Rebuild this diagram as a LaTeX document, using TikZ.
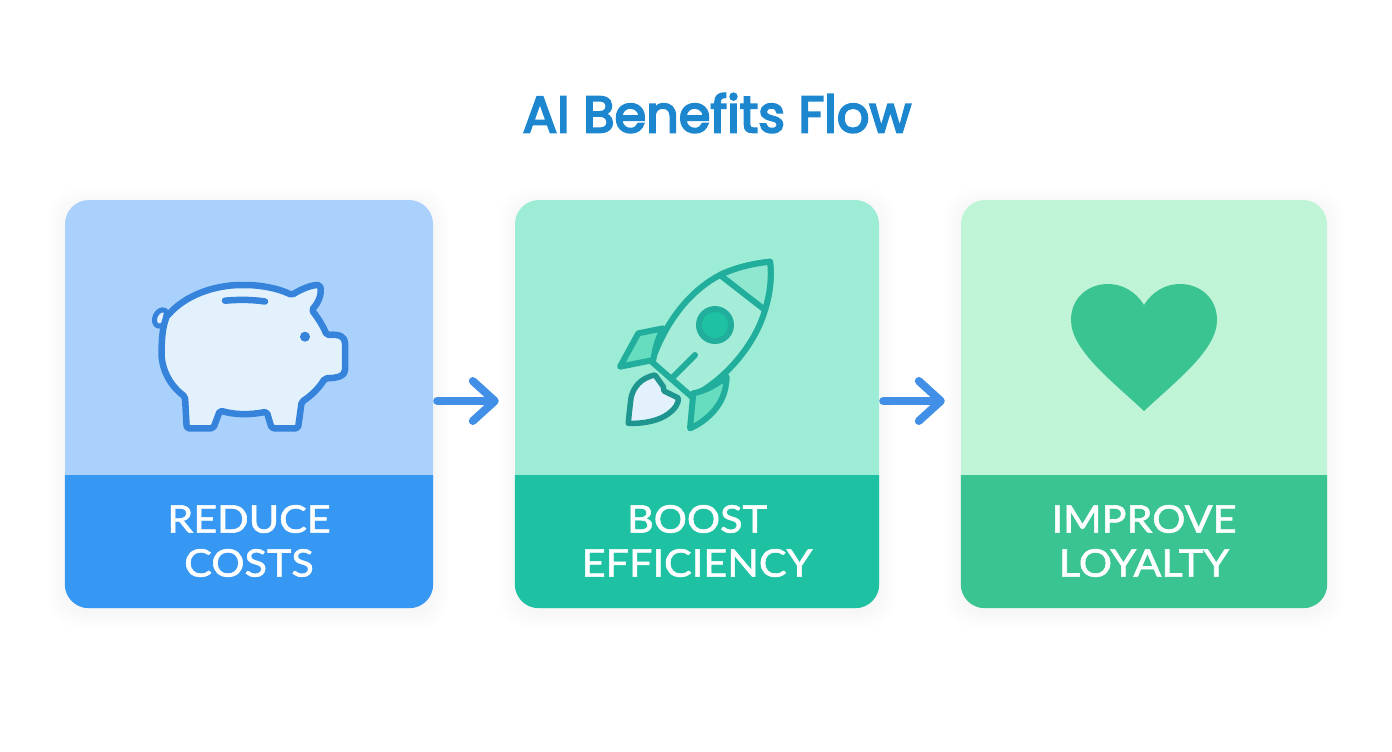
\documentclass[tikz,border=0pt]{standalone}
\usepackage{fontspec}
\setmainfont{Lato}
\newfontfamily\titlefont[FakeBold=4]{Poppins}
\newfontfamily\captionfont[FakeStretch=1.09,FakeBold=1.5]{Lato}
\usepackage{tikz}
\usetikzlibrary{arrows.meta}
\definecolor{titleblue}{HTML}{1C86CF}
\definecolor{lightblue}{HTML}{A9D1FB}
\definecolor{bandblue}{HTML}{3798F3}
\definecolor{pigline}{HTML}{3583DB}
\definecolor{pigfill}{HTML}{E3F1FC}
\definecolor{lightmint}{HTML}{9DECD5}
\definecolor{bandmint}{HTML}{1EC2A3}
\definecolor{rocketline}{HTML}{22AE9C}
\definecolor{rocketfin}{HTML}{66DDBE}
\definecolor{rocketbody}{HTML}{A6EDD9}
\definecolor{flameline}{HTML}{1F9590}
\definecolor{lightgreen}{HTML}{C0F4D6}
\definecolor{bandgreen}{HTML}{3AC492}
\definecolor{arrowblue}{HTML}{428FE8}
\tikzset{
    card/.style={rectangle,rounded corners=24pt,inner sep=0pt,minimum height=408pt},
    caption/.style={text=white,align=center,font=\captionfont\fontsize{38}{44}\selectfont,inner sep=0pt},
    pigstroke/.style={draw=pigline,line width=6.5pt,line join=round,line cap=round},
    rocketstroke/.style={draw=rocketline,line width=6pt,line join=round,line cap=round},
    flowarrow/.style={-{Straight Barb[round,length=22pt,width=40pt]},arrowblue,line width=8pt,line cap=round,shorten <=4pt,shorten >=16pt}
}
\begin{document}
\begin{tikzpicture}[x=1pt,y=-1pt]
\useasboundingbox (0,0) rectangle (1392,752);
% soft shadows
\foreach \xa/\xb in {65/433,515/879,961/1327}{
  \foreach \grow in {2,4,...,16}{
    \fill[black,opacity=0.005,rounded corners=28pt] (\xa-\grow,204-\grow) rectangle (\xb+\grow,612+\grow);
  }
}
\node[font=\titlefont\fontsize{51}{54}\selectfont,text=titleblue,inner sep=0pt] (title) at (717,113) {AI Benefits Flow};
% cards
\node[card,fill=lightblue,minimum width=368pt] (reduce) at (249,404) {};
\node[card,fill=lightmint,minimum width=364pt] (boost) at (697,404) {};
\node[card,fill=lightgreen,minimum width=366pt] (improve) at (1144,404) {};
\fill[bandblue] (reduce.west |- 0,475) -- (reduce.east |- 0,475) [rounded corners=24pt] -- (reduce.south east) -- (reduce.south west) [sharp corners] -- cycle;
\fill[bandmint] (boost.west |- 0,475) -- (boost.east |- 0,475) [rounded corners=24pt] -- (boost.south east) -- (boost.south west) [sharp corners] -- cycle;
\fill[bandgreen] (improve.west |- 0,475) -- (improve.east |- 0,475) [rounded corners=24pt] -- (improve.south east) -- (improve.south west) [sharp corners] -- cycle;
\node[caption] (reducetext) at (249,541) {REDUCE\\COSTS};
\node[caption] (boosttext) at (697,541) {BOOST\\EFFICIENCY};
\node[caption] (improvetext) at (1144,541) {IMPROVE\\LOYALTY};
% arrows
\draw[flowarrow] (reduce.east |- 0,401) -- (boost.west |- 0,401);
\draw[flowarrow] (boost.east |- 0,401) -- (improve.west |- 0,401);
% pig
\draw[draw=pigline,fill=pigfill,line width=5pt,rotate around={-25:(161,318)}] (161,318) ellipse (6pt and 8.5pt);
\draw[pigstroke,fill=pigfill,rounded corners=2pt] (166.7,316.7) .. controls (185,295) and (215,285) .. (243.3,285)
  .. controls (262,285) and (280,289) .. (291.7,295)
  .. controls (300,290) and (310,285) .. (320,285)
  .. controls (322,295) and (318,303) .. (311.7,310)
  .. controls (318,318) and (323,326) .. (326.7,335)
  .. controls (340,334) and (345,337) .. (345,345) -- (345,368)
  .. controls (345,376) and (338,378) .. (325,378.3)
  .. controls (319,388) and (311,396) .. (301.7,401.7)
  -- (298,428.3) -- (271.7,428.3) -- (266.7,411.7)
  .. controls (250,415) and (235,415) .. (220,410.5)
  -- (213.3,428.3) -- (186.7,428.3) -- (185,396.7)
  .. controls (168,384) and (161,366) .. (161.7,350)
  .. controls (161.7,338) and (163,326) .. (166.7,316.7) -- cycle;
\draw[pigstroke] (225,300.7) .. controls (238,299.5) and (252,299.5) .. (265,301.5);
\fill[pigline] (305,336.7) circle (5pt);
% rocket
\draw[draw=flameline,line width=5.5pt,line join=round,fill=pigfill] (655,375) .. controls (640,378) and (633,388) .. (631,398)
  .. controls (630,406) and (629,415) .. (628.3,423.3) .. controls (645,424) and (660,420) .. (668,414)
  .. controls (675,409) and (679,403) .. (678.3,398)
  -- (664,391) -- (663.3,386.7) -- cycle;
\draw[rocketstroke,fill=rocketbody] (770,261.7) .. controls (750,264) and (735,268) .. (720,275)
  .. controls (695,288) and (668,315) .. (651.7,361.7)
  -- (691.7,396.7)
  .. controls (725,380) and (755,345) .. (765,310)
  .. controls (770,293) and (772,278) .. (770,261.7) -- cycle;
\draw[rocketstroke,fill=rocketfin!35!rocketbody] (770,261.7) .. controls (750,264) and (735,268) .. (720,275)
  -- (765,310) .. controls (770,293) and (772,278) .. (770,261.7) -- cycle;
\draw[rocketstroke,fill=bandmint] (715,325) circle (16pt);
\draw[rocketstroke] (695,355) -- (671.7,378.3);
\draw[rocketstroke,fill=rocketfin] (663.3,328.3) -- (638.3,333.3) -- (620,366.7) -- (653.3,360) .. controls (655,348) and (658,338) .. (663.3,328.3) -- cycle;
\draw[rocketstroke,fill=rocketfin] (726.7,376.7) .. controls (726,392) and (722,402) .. (712,413) .. controls (705,420) and (698,425) .. (690,428.3) -- (693.3,393.3) .. controls (705,391) and (716,385) .. (726.7,376.7) -- cycle;
% heart
\fill[bandgreen] (1144,411) .. controls (1112,381) and (1071,350) .. (1071,320)
  .. controls (1071,298) and (1088,284) .. (1108,284)
  .. controls (1123,284) and (1136,292) .. (1144,305)
  .. controls (1152,292) and (1165,284) .. (1180,284)
  .. controls (1200,284) and (1217,298) .. (1217,320)
  .. controls (1217,350) and (1176,381) .. (1144,411) -- cycle;
\end{tikzpicture}
\end{document}
